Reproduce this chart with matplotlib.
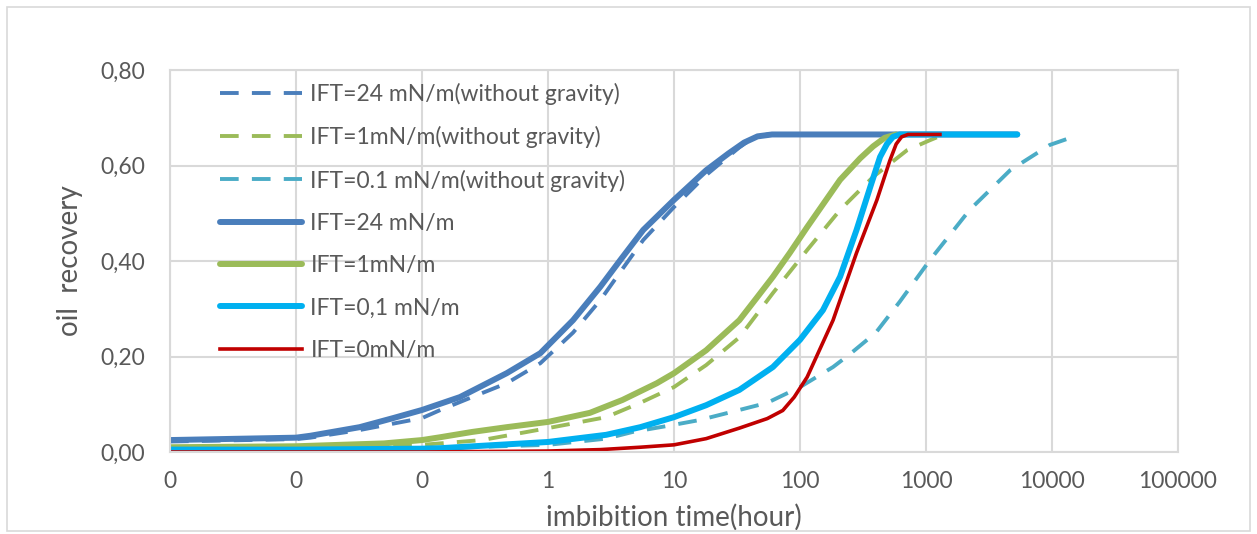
import numpy as np
import matplotlib.pyplot as plt
from matplotlib.ticker import FixedLocator, FuncFormatter
from matplotlib.patches import Rectangle

plt.rcParams['font.family'] = ['Lato', 'DejaVu Sans']

# imbibition time (hour) / oil recovery
t_24_ng = [0.001, 0.01, 0.013, 0.032, 0.1, 0.14, 0.25, 0.47, 0.87, 1.58, 2.6, 3.7, 5.7, 10, 18, 33, 42, 55, 100, 1000, 5300]
r_24_ng = [0.022, 0.027, 0.03, 0.046, 0.071, 0.088, 0.115, 0.144, 0.186, 0.25, 0.318, 0.375, 0.444, 0.513, 0.58, 0.638, 0.657, 0.665, 0.665, 0.665, 0.665]

t_1_ng = [0.001, 0.01, 0.1, 0.3, 1, 2.9, 5.4, 10, 18, 33, 61, 114, 208, 380, 707, 1075, 1300]
r_1_ng = [0.008, 0.009, 0.015, 0.025, 0.05, 0.073, 0.103, 0.136, 0.182, 0.24, 0.333, 0.423, 0.507, 0.576, 0.632, 0.653, 0.662]

t_01_ng = [0.001, 0.01, 0.1, 1, 2.9, 4.7, 10, 16, 33, 55, 100, 183, 249, 400, 620, 1075, 2220, 4650, 9600, 14700]
r_01_ng = [0.005, 0.005, 0.007, 0.015, 0.028, 0.042, 0.057, 0.067, 0.088, 0.103, 0.136, 0.178, 0.205, 0.25, 0.315, 0.402, 0.507, 0.59, 0.643, 0.66]

t_24 = [0.001, 0.01, 0.013, 0.032, 0.059, 0.1, 0.2, 0.47, 0.87, 1.58, 2.6, 3.7, 5.7, 10, 18, 27, 36, 46, 60, 100, 1000, 5300]
r_24 = [0.025, 0.03, 0.034, 0.052, 0.071, 0.088, 0.115, 0.165, 0.207, 0.276, 0.346, 0.40, 0.465, 0.528, 0.59, 0.625, 0.648, 0.661, 0.665, 0.665, 0.665, 0.665]

t_1 = [0.001, 0.01, 0.05, 0.1, 0.14, 0.25, 0.47, 1, 2.15, 3.9, 7.3, 10, 18, 33, 46, 61, 83, 114, 208, 300, 380, 470, 580]
r_1 = [0.01, 0.012, 0.018, 0.025, 0.031, 0.042, 0.052, 0.063, 0.082, 0.109, 0.144, 0.165, 0.213, 0.276, 0.325, 0.367, 0.417, 0.471, 0.57, 0.615, 0.64, 0.658, 0.665]

t_01 = [0.001, 0.01, 0.1, 0.14, 1, 2.9, 5.4, 10, 18, 33, 61, 100, 152, 208, 281, 361, 432, 490, 547, 620, 1000, 5300]
r_01 = [0.005, 0.005, 0.007, 0.008, 0.021, 0.036, 0.052, 0.073, 0.098, 0.13, 0.178, 0.235, 0.297, 0.367, 0.465, 0.555, 0.618, 0.645, 0.66, 0.665, 0.665, 0.665]

t_0 = [0.001, 0.1, 1, 2.6, 5.4, 10, 18, 33, 55, 73, 90, 114, 183, 281, 408, 516, 580, 640, 720, 1290]
r_0 = [0.0, 0.0, 0.002, 0.005, 0.01, 0.015, 0.028, 0.05, 0.07, 0.087, 0.115, 0.157, 0.276, 0.417, 0.528, 0.61, 0.645, 0.66, 0.665, 0.665]

x_ticks = [0.001, 0.01, 0.1, 1, 10, 100, 1000, 10000, 100000]
y_ticks = [0.0, 0.2, 0.4, 0.6, 0.8]

grey = '#595959'
gridc = '#d9d9d9'

fig = plt.figure(figsize=(12.57, 5.34), dpi=100)
ax = fig.add_axes([170/1257, 1-452/534, 1008/1257, 382/534])

dash = (0, (4.8, 3.4))
ax.plot(t_24_ng, r_24_ng, color='#4a7ebb', lw=2.8, ls=dash, label='IFT=24 mN/m(without gravity)')
ax.plot(t_1_ng, r_1_ng, color='#9bbb59', lw=2.8, ls=dash, label='IFT=1mN/m(without gravity)')
ax.plot(t_01_ng, r_01_ng, color='#4bacc6', lw=2.8, ls=dash, label='IFT=0.1 mN/m(without gravity)')
ax.plot(t_24, r_24, color='#4a7ebb', lw=4.3, solid_capstyle='round', label='IFT=24 mN/m')
ax.plot(t_1, r_1, color='#9bbb59', lw=4.3, solid_capstyle='round', label='IFT=1mN/m')
ax.plot(t_01, r_01, color='#00b0f0', lw=4.3, solid_capstyle='round', label='IFT=0,1 mN/m')
ax.plot(t_0, r_0, color='#c00000', lw=2.6, label='IFT=0mN/m')

ax.set_xscale('log')
ax.set_xlim(0.001, 100000)
ax.set_ylim(0, 0.8)
ax.xaxis.set_major_locator(FixedLocator(x_ticks))
ax.xaxis.set_minor_locator(FixedLocator([]))
ax.xaxis.set_major_formatter(FuncFormatter(lambda v, p: '{:.0f}'.format(v)))
ax.yaxis.set_major_locator(FixedLocator(y_ticks))
ax.yaxis.set_major_formatter(FuncFormatter(lambda v, p: '{:.2f}'.format(v).replace('.', ',')))
ax.tick_params(length=0, labelsize=16.5, colors=grey)
ax.tick_params(axis='y', pad=18)
ax.tick_params(axis='x', pad=14)
ax.grid(True, color=gridc, lw=1.5)
ax.set_axisbelow(True)
for s in ax.spines.values():
    s.set_color(gridc)
    s.set_linewidth(1.5)

ax.set_xlabel('imbibition time(hour)', fontsize=20, color=grey, labelpad=8)
ax.set_ylabel('oil  recovery', fontsize=20, color=grey, labelpad=12)

ax.legend(loc='upper left', bbox_to_anchor=(0.045, 0.979), frameon=False, fontsize=16.5,
          labelcolor=grey, handlelength=3.6, handletextpad=0.35, labelspacing=0.93,
          borderpad=0.2, borderaxespad=0)

fig.patches.append(Rectangle((7/1257, 3/534), 1243/1257, 524/534, transform=fig.transFigure,
                             fill=False, edgecolor='#d9d9d9', lw=1.2))

fig.savefig('out.png', dpi=100)
